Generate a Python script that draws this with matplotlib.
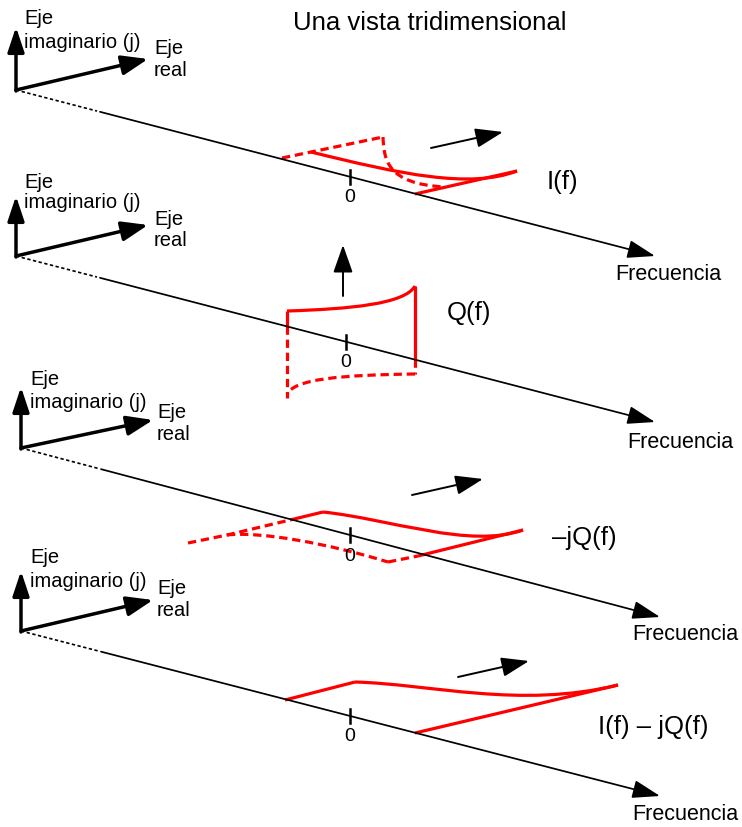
import numpy as np
import matplotlib.pyplot as plt
from matplotlib.path import Path
from matplotlib.patches import PathPatch

plt.rcParams['font.family'] = ['Liberation Sans', 'DejaVu Sans']

# --- geometria de los cuatro paneles (coordenadas en pixeles de la imagen) ---
origins = [(16, 91), (16, 257), (21, 449), (21, 632)]
imag_tips = [(16, 28), (16, 197), (21, 388), (21, 572)]
real_tips = [(148, 60), (148, 226), (153, 421), (153, 601)]
freq_tips = [(655, 257), (655, 423), (660, 618), (660, 797)]
dot_end_x = [97, 97, 98, 98]
zero_x = [350, 346, 350, 350]

eje_imag_lbl = [(24, 19, 43), (24, 182, 203), (30, 380, 403), (30, 558, 582)]
eje_real_lbl = [(154, 48, 70), (154, 220, 241), (157, 413, 435), (157, 589, 611)]
freq_lbl = [(615, 275), (627, 443), (632, 635), (632, 815)]

signal_names = ['I(f)', 'Q(f)', '\u2013jQ(f)', 'I(f) \u2013 jQ(f)']
signal_lbl = [(547, 182), (447, 313), (552, 538), (598, 727)]

# direccion del espectro
dir_arrows = [((431, 149), (503, 133)), ((343, 297), (343, 246)),
              ((412, 496), (483, 480)), ((458, 678), (529, 662))]

RED = '#ff0000'

fig = plt.figure(figsize=(7.42, 8.28), dpi=100)
ax = fig.add_axes([0, 0, 1, 1])
ax.set_xlim(0, 742)
ax.set_ylim(828, 0)
ax.axis('off')


def arrow(p0, p1, lw, hl=0.6, hw=0.22, ms=20):
    ax.annotate('', xy=p1, xytext=p0,
                arrowprops=dict(arrowstyle=f'-|>,head_length={hl},head_width={hw}',
                                color='black', lw=lw, mutation_scale=ms,
                                shrinkA=0, shrinkB=0))


def bez(pts, ls='-', lw=2.3):
    # curva de Bezier cubica
    codes = [Path.MOVETO, Path.CURVE4, Path.CURVE4, Path.CURVE4]
    ax.add_patch(PathPatch(Path(pts, codes), fill=False, edgecolor=RED,
                           lw=lw, linestyle=ls, capstyle='butt'))


def poly(pts, ls='-', lw=2.3):
    pts = np.array(pts)
    ax.plot(pts[:, 0], pts[:, 1], color=RED, lw=lw, linestyle=ls,
            solid_capstyle='butt', dash_capstyle='butt')


DASH = (0, (2.6, 1.5))

for i in range(4):
    x0, y0 = origins[i]
    xt, yt = freq_tips[i]
    slope = (yt - y0) / (xt - x0)
    yline = lambda x: y0 + slope * (x - x0)

    # ejes imaginario y real
    arrow((x0, y0 + 1), imag_tips[i], 2.5, hl=0.75, hw=0.25, ms=20)
    arrow((x0, y0), real_tips[i], 2.5, hl=0.8, hw=0.3, ms=20)

    # eje de frecuencia: punteado y luego continuo
    xd = dot_end_x[i]
    ax.plot([x0, xd], [y0, yline(xd)], color='black', lw=1.2,
            linestyle=(0, (2, 1.5)))
    arrow((xd + 3, yline(xd + 3)), (xt, yt), 1.25, hl=0.85, hw=0.28, ms=20)

    # marca del cero
    zx = zero_x[i]
    ax.plot([zx, zx], [yline(zx) - 7, yline(zx) + 7], color='black', lw=1.8)
    ax.text(zx, yline(zx) + 20, '0', fontsize=14, ha='center', va='center')

    # textos
    lx, ly1, ly2 = eje_imag_lbl[i]
    ax.text(lx, ly1, 'Eje', fontsize=14.5, va='center')
    ax.text(lx, ly2, 'imaginario (j)', fontsize=14.5, va='center')
    rx, ry1, ry2 = eje_real_lbl[i]
    ax.text(rx, ry1, 'Eje', fontsize=14.5, va='center')
    ax.text(rx, ry2, 'real', fontsize=14.5, va='center')
    ax.text(freq_lbl[i][0], freq_lbl[i][1], 'Frecuencia', fontsize=15.5,
            va='center')
    ax.text(signal_lbl[i][0], signal_lbl[i][1], signal_names[i],
            fontsize=18.5, va='center')

    arrow(dir_arrows[i][0], dir_arrows[i][1], 1.4, hl=0.85, hw=0.3, ms=20)

# panel 1: I(f)
poly([(282, 159), (311, 153), (383, 138)], ls=DASH)
bez([(383, 138), (384, 160), (386, 185), (445, 188)], ls=DASH)
bez([(311, 153), (400, 175), (470, 190), (517, 172)])
poly([(415, 195), (517, 172)])

# panel 2: Q(f)
poly([(287, 327), (287, 312)])
bez([(287, 312), (350, 310), (405, 305), (415, 287)])
poly([(415, 287), (415, 360)])
poly([(287, 327), (287, 399)], ls=DASH)
poly([(415, 360), (415, 375)], ls=DASH)
bez([(415, 375), (340, 376), (295, 380), (287, 395)], ls=DASH)

# panel 3: -jQ(f)
poly([(188, 544), (227, 536), (290, 521)], ls=DASH)
poly([(290, 521), (323, 513)])
bez([(323, 513), (390, 520), (470, 550), (523, 531)])
poly([(418, 557), (523, 531)])
bez([(227, 536), (260, 532), (330, 545), (388, 563)], ls=DASH)
poly([(388, 563), (418, 557)], ls=DASH)

# panel 4: I(f) - jQ(f)
poly([(285, 701), (355, 683)])
bez([(355, 683), (430, 685), (520, 710), (618, 686)])
poly([(415, 734), (618, 686)])

ax.text(293, 30, 'Una vista tridimensional', fontsize=18.5, va='baseline')

fig.savefig('out.png', dpi=100)
